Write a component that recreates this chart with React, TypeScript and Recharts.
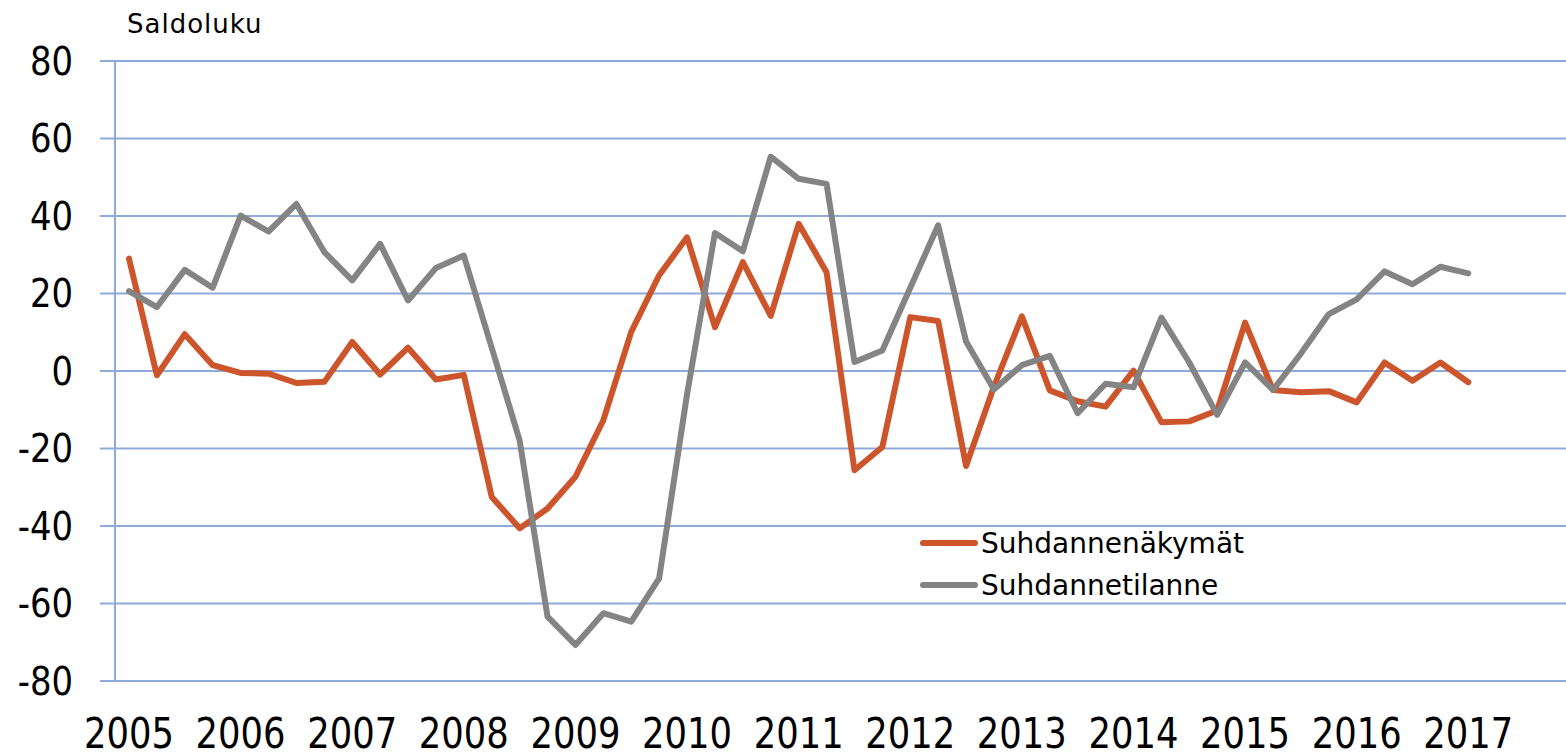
import React from 'react';
import {
    LineChart,
    Line,
    XAxis,
    YAxis,
    CartesianGrid,
    Legend,
} from 'recharts';

// quarters 2005Q1 .. 2017Q4 (last three not published yet)
const years = [2005, 2006, 2007, 2008, 2009, 2010, 2011, 2012, 2013, 2014, 2015, 2016, 2017];

const outlook = [
    29.0, -1.1, 9.5, 1.5,
    -0.5, -0.7, -3.1, -2.8,
    7.5, -0.9, 6.0, -2.2,
    -1.0, -32.5, -40.6, -35.5,
    -27.3, -12.7, 10.1, 24.7,
    34.5, 11.3, 28.1, 14.2,
    38.0, 25.5, -25.6, -19.6,
    13.9, 12.9, -24.5, -4.0,
    14.1, -5.0, -7.8, -9.2,
    0.1, -13.2, -13.0, -10.2,
    12.5, -4.9, -5.5, -5.2,
    -8.1, 2.2, -2.5, 2.2,
    -2.9,
];

const situation = [
    20.6, 16.5, 26.1, 21.5,
    40.1, 36.0, 43.1, 30.7,
    23.4, 32.8, 18.2, 26.6,
    29.8, 6.0, -17.9, -63.4,
    -70.7, -62.5, -64.7, -53.5,
    -6.0, 35.6, 30.9, 55.3,
    49.6, 48.3, 2.3, 5.3,
    21.5, 37.6, 7.6, -4.8,
    1.5, 3.9, -10.9, -3.3,
    -4.2, 13.8, 2.2, -11.3,
    2.2, -4.9, 4.5, 14.7,
    18.5, 25.7, 22.4, 26.9,
    25.2,
];

const yTicks = [-80, -60, -40, -20, 0, 20, 40, 60, 80];

const seriesNames = ['Suhdannenäkymät', 'Suhdannetilanne'];
const seriesColors = ['#CD552B', '#848484'];

const data = years.flatMap((y, yi) =>
    [1, 2, 3, 4].map((q, qi) => {
        const i = yi * 4 + qi;
        return {
            quarter: `${y}Q${q}`,
            outlook: i < outlook.length ? outlook[i] : null,
            situation: i < situation.length ? situation[i] : null,
        };
    })
);

const gridColor = '#8EAADB';
const textFont = "'DejaVu Sans', Verdana, sans-serif";

// DejaVu is wider than the original font, squeeze the glyphs a bit
const squeezed = (s: string, size: number, factor: number) => {
    let w = 0;
    for (const ch of s) w += ch === '-' ? 0.361 : 0.636;
    return w * size * factor;
};

const XTick = (props: any) => {
    const { x, y, payload } = props;
    const label = String(payload.value).slice(0, 4);
    return (
        <text
            x={x}
            y={y}
            dy="0.71em"
            textAnchor="middle"
            fontFamily={textFont}
            fontSize={42}
            fill="#000"
            textLength={90}
            lengthAdjust="spacingAndGlyphs"
        >
            {label}
        </text>
    );
};

const YTick = (props: any) => {
    const { x, y, payload } = props;
    const label = String(payload.value);
    return (
        <text
            x={x}
            y={y}
            dy="0.355em"
            textAnchor="end"
            fontFamily={textFont}
            fontSize={38.5}
            fill="#000"
            textLength={squeezed(label, 38.5, 0.88)}
            lengthAdjust="spacingAndGlyphs"
        >
            {label}
        </text>
    );
};

const LegendBox = () => (
    <div style={{ fontFamily: textFont, fontSize: 28, color: '#000' }}>
        {seriesNames.map((name, i) => (
            <div key={name} style={{ display: 'flex', alignItems: 'center', height: 42 }}>
                <span
                    style={{
                        display: 'inline-block',
                        width: 58,
                        height: 6,
                        borderRadius: 3,
                        background: seriesColors[i],
                        marginRight: 3,
                    }}
                />
                <span>{name}</span>
            </div>
        ))}
    </div>
);

export default function App() {
    return (
        <div style={{ position: 'absolute', left: 0, top: 0, width: 1566, height: 756, background: '#fff' }}>
            <div
                style={{
                    position: 'absolute',
                    left: 127,
                    top: 9,
                    fontFamily: textFont,
                    fontSize: 26,
                    letterSpacing: 1,
                    lineHeight: 'normal',
                    color: '#000',
                    zIndex: 2,
                }}
            >
                Saldoluku
            </div>
            <LineChart
                width={1566}
                height={756}
                data={data}
                margin={{ top: 61, right: 0, left: 0, bottom: 0 }}
            >
                <CartesianGrid vertical={false} stroke={gridColor} strokeWidth={2} />
                <XAxis
                    dataKey="quarter"
                    interval={3}
                    padding={{ left: 14, right: 14 }}
                    height={75}
                    tickLine={false}
                    tickSize={0}
                    tickMargin={37}
                    axisLine={{ stroke: gridColor, strokeWidth: 2 }}
                    tick={<XTick />}
                />
                <YAxis
                    domain={[-80, 80]}
                    ticks={yTicks}
                    width={115}
                    tickSize={15}
                    tickMargin={27}
                    tickLine={{ stroke: gridColor, strokeWidth: 2 }}
                    axisLine={{ stroke: gridColor, strokeWidth: 2 }}
                    tick={<YTick />}
                />
                <Legend
                    layout="horizontal"
                    verticalAlign="middle"
                    align="center"
                    wrapperStyle={{ position: 'absolute', left: 920, top: 522, width: 360 }}
                    content={() => <LegendBox />}
                />
                <Line
                    type="linear"
                    dataKey="outlook"
                    name={seriesNames[0]}
                    stroke={seriesColors[0]}
                    strokeWidth={6}
                    strokeLinejoin="round"
                    strokeLinecap="round"
                    dot={false}
                    activeDot={false}
                    isAnimationActive={false}
                />
                <Line
                    type="linear"
                    dataKey="situation"
                    name={seriesNames[1]}
                    stroke={seriesColors[1]}
                    strokeWidth={6}
                    strokeLinejoin="round"
                    strokeLinecap="round"
                    dot={false}
                    activeDot={false}
                    isAnimationActive={false}
                />
            </LineChart>
        </div>
    );
}
